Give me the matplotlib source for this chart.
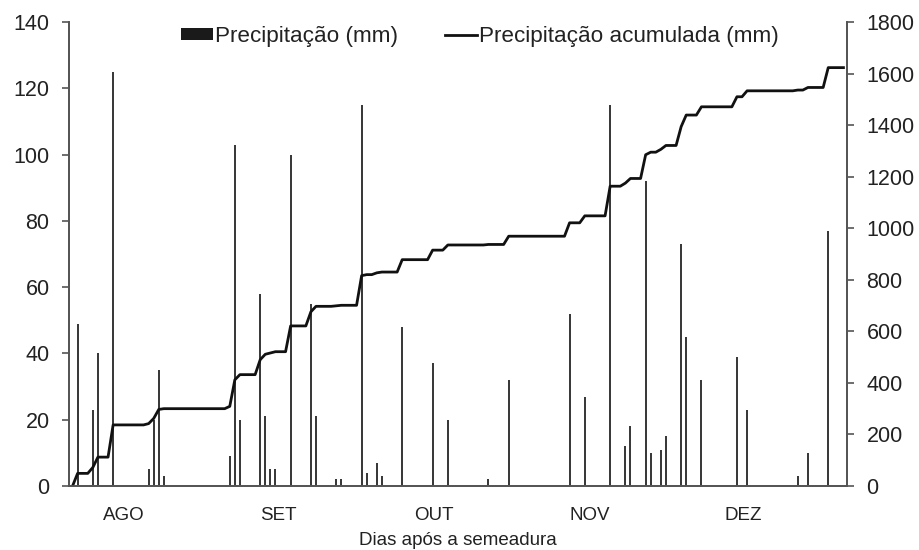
import numpy as np
import matplotlib
matplotlib.use("Agg")
import matplotlib.pyplot as plt
from matplotlib.patches import Patch
from matplotlib.lines import Line2D

plt.rcParams['font.family'] = ['Liberation Sans', 'DejaVu Sans']

# Daily rainfall events: day after sowing and amount (mm)
rain_days = [1, 4, 5, 8, 15, 16, 17, 18, 31, 32, 33, 37, 38, 39, 40, 43, 47, 48,
             52, 53, 57, 58, 60, 61, 65, 71, 74, 82, 86, 98, 101, 106, 109, 110,
             113, 114, 116, 117, 120, 121, 124, 131, 133, 143, 145, 149]
rain_mm = [49, 23, 40, 125, 5, 20, 35, 3, 9, 103, 20, 58, 21, 5, 5, 100, 55, 21,
           2, 2, 115, 4, 7, 3, 48, 37, 20, 2, 32, 52, 27, 115, 12, 18,
           92, 10, 11, 15, 73, 45, 32, 39, 23, 3, 10, 77]
n_days = 153

month_labels = ['AGO', 'SET', 'OUT', 'NOV', 'DEZ']
month_pos = [10.1, 40.6, 71.2, 102.0, 132.3]

days = np.arange(n_days)
daily = np.zeros(n_days)
daily[rain_days] = rain_mm
cumulative = np.cumsum(daily)

fig = plt.figure(figsize=(9.2, 5.5), dpi=100)
ax = fig.add_axes([69 / 920, 1 - 486 / 550, (847 - 69) / 920, (486 - 22) / 550])
ax2 = ax.twinx()

bar_color = '#3a3a3a'
ax.bar(days, daily, width=0.4, color=bar_color, linewidth=0)
ax2.plot(days, cumulative, color='#111111', lw=2.0, solid_joinstyle='round')

ax.set_xlim(-0.7, 152.7)
ax.set_ylim(0, 140)
ax2.set_ylim(0, 1800)
ax.set_yticks(np.arange(0, 141, 20))
ax2.set_yticks(np.arange(0, 1801, 200))

ax.set_xticks(month_pos)
ax.set_xticklabels(month_labels, fontsize=13.5, color='#222222')
ax.tick_params(axis='x', length=0, pad=15)
ax.tick_params(axis='y', length=5, width=1.2, color='#555555', pad=9,
               labelsize=15.5, labelcolor='#222222')
ax2.tick_params(axis='y', length=5, width=1.2, color='#555555', pad=9,
                labelsize=15.5, labelcolor='#222222')

for a in (ax, ax2):
    a.spines['top'].set_visible(False)
    for s in ('left', 'right', 'bottom'):
        a.spines[s].set_color('#555555')
        a.spines[s].set_linewidth(1.3)

ax.set_xlabel('Dias após a semeadura', fontsize=13.5, color='#222222', labelpad=6)

handles = [Patch(facecolor='#1a1a1a', edgecolor='none'),
           Line2D([0], [0], color='#111111', lw=2.0)]
labels = ['Precipitação (mm)', 'Precipitação acumulada (mm)']
ax2.legend(handles, labels, loc='center', bbox_to_anchor=(0.528, 0.968),
           ncol=2, frameon=False, fontsize=16.2, handlelength=1.4,
           handleheight=0.42, handletextpad=0.1, columnspacing=2.1,
           borderpad=0, labelcolor='#222222')

fig.savefig('out.png', dpi=100)
